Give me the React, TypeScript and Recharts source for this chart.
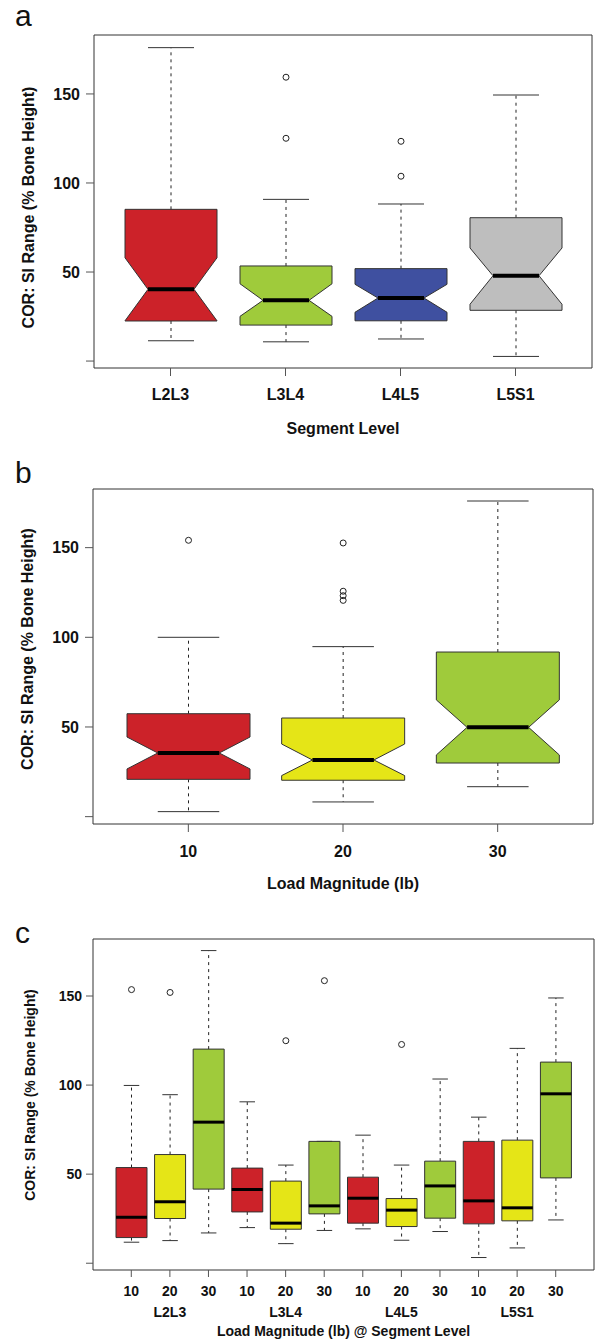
import React from 'react'
import { BarChart, Bar, Cell, XAxis, YAxis, CartesianGrid, Label } from 'recharts'

const segments = ['L2L3', 'L3L4', 'L4L5', 'L5S1']
const loads = ['10', '20', '30']
const yTicks = [0, 50, 100, 150]

// a: by segment level (notched)
const segWhiskerLo = [11.4, 10.8, 12.4, 2.6]
const segQ1 = [22.5, 20.2, 22.6, 28.5]
const segNotchLo = [22.6, 25.1, 27.4, 31.9]
const segMedian = [40.3, 34.1, 35.4, 47.9]
const segNotchHi = [58.0, 43.4, 43.1, 63.5]
const segQ3 = [85.2, 53.4, 51.9, 80.5]
const segWhiskerHi = [176.0, 90.8, 88.2, 149.4]
const segOutliers: number[][] = [[], [125.1, 159.4], [103.8, 123.4], []]

// b: by load magnitude (notched)
const loadWhiskerLo = [2.8, 8.2, 16.7]
const loadQ1 = [20.8, 20.3, 29.9]
const loadNotchLo = [26.6, 22.9, 34.4]
const loadMedian = [35.5, 31.6, 49.8]
const loadNotchHi = [44.4, 40.5, 65.1]
const loadQ3 = [57.4, 55.0, 91.8]
const loadWhiskerHi = [100.0, 94.8, 176.0]
const loadOutliers: number[][] = [[154.1], [120.6, 123.2, 125.7, 152.6], []]

// c: load @ segment level
const comboWhiskerLo = [11.8, 12.7, 17.0, 20.0, 11.0, 18.4, 19.3, 12.9, 17.8, 3.2, 8.6, 24.3]
const comboQ1 = [14.4, 25.1, 41.6, 28.8, 19.1, 27.7, 22.5, 20.6, 25.3, 22.1, 23.8, 47.9]
const comboMedian = [25.8, 34.5, 79.2, 41.4, 22.5, 32.2, 36.5, 29.8, 43.4, 35.0, 31.1, 95.1]
const comboQ3 = [53.7, 61.0, 120.2, 53.4, 46.1, 68.4, 48.3, 36.3, 57.3, 68.4, 69.1, 112.9]
const comboWhiskerHi = [99.8, 94.6, 175.5, 90.6, 55.1, 68.4, 71.9, 55.1, 103.4, 82.0, 120.6, 148.9]
const comboOutliers: number[][] = [[153.6], [152.0], [], [], [124.9], [158.6], [], [122.8], [], [], [], []]

const segColors = ['#CC2229', '#9FCB3B', '#3F50A0', '#BEBEBE']
const loadColors = ['#CC2229', '#E5E517', '#9FCB3B']

type Box = {
  name: string
  lo: number
  q1: number
  med: number
  q3: number
  hi: number
  nLo?: number
  nHi?: number
  out: number[]
}

const segData: Box[] = segments.map((name, i) => ({
  name,
  lo: segWhiskerLo[i],
  q1: segQ1[i],
  nLo: segNotchLo[i],
  med: segMedian[i],
  nHi: segNotchHi[i],
  q3: segQ3[i],
  hi: segWhiskerHi[i],
  out: segOutliers[i],
}))

const loadData: Box[] = loads.map((name, i) => ({
  name,
  lo: loadWhiskerLo[i],
  q1: loadQ1[i],
  nLo: loadNotchLo[i],
  med: loadMedian[i],
  nHi: loadNotchHi[i],
  q3: loadQ3[i],
  hi: loadWhiskerHi[i],
  out: loadOutliers[i],
}))

const comboData: Box[] = comboMedian.map((med, i) => ({
  name: `${segments[Math.floor(i / 3)]} ${loads[i % 3]}`,
  lo: comboWhiskerLo[i],
  q1: comboQ1[i],
  med,
  q3: comboQ3[i],
  hi: comboWhiskerHi[i],
  out: comboOutliers[i],
}))
const comboColors = comboData.map((_, i) => loadColors[i % 3])

const FONT = '"Liberation Sans", Arial, Helvetica, sans-serif'

// box, whiskers, median and outliers, placed with the bar's own y scale
const makeBoxShape = (medianWidth: number) => (props: any) => {
  const { x, y, width, height, payload, fill } = props
  const b: Box = payload
  const top = Math.min(y, y + height)
  const k = Math.abs(height) / (b.q3 - b.q1)
  const py = (v: number) => top + (b.q3 - v) * k
  const cx = x + width / 2
  const left = x
  const right = x + width
  const cap = width / 4
  const notched = b.nLo != null && b.nHi != null
  const waist = notched ? width / 4 : width / 2
  const pts = notched
    ? [
        [left, py(b.q3)], [right, py(b.q3)], [right, py(b.nHi!)], [cx + waist, py(b.med)],
        [right, py(b.nLo!)], [right, py(b.q1)], [left, py(b.q1)], [left, py(b.nLo!)],
        [cx - waist, py(b.med)], [left, py(b.nHi!)],
      ]
    : [[left, py(b.q3)], [right, py(b.q3)], [right, py(b.q1)], [left, py(b.q1)]]
  return (
    <g>
      <line x1={cx} x2={cx} y1={py(b.q3)} y2={py(b.hi)} stroke="#222" strokeDasharray="3 4" />
      <line x1={cx} x2={cx} y1={py(b.q1)} y2={py(b.lo)} stroke="#222" strokeDasharray="3 4" />
      <line x1={cx - cap} x2={cx + cap} y1={py(b.hi)} y2={py(b.hi)} stroke="#333" />
      <line x1={cx - cap} x2={cx + cap} y1={py(b.lo)} y2={py(b.lo)} stroke="#333" />
      <polygon points={pts.map((p) => p.join(',')).join(' ')} fill={fill} stroke="#333" />
      <line x1={cx - waist} x2={cx + waist} y1={py(b.med)} y2={py(b.med)} stroke="#000" strokeWidth={medianWidth} />
      {b.out.map((v, i) => (
        <circle key={i} cx={cx} cy={py(v)} r={3} fill="none" stroke="#222" />
      ))}
    </g>
  )
}

const yTick = (size: number) => (p: any) =>
  p.payload.value === 0 ? (
    <g />
  ) : (
    <text x={p.x} y={p.y} dy={size * 0.36} textAnchor="end" fontSize={size} fontWeight="bold" fill="#111" fontFamily={FONT}>
      {p.payload.value}
    </text>
  )

const plainTick = (size: number, dy: number) => (p: any) => (
  <text x={p.x} y={p.y + dy} textAnchor="middle" fontSize={size} fontWeight="bold" fill="#111" fontFamily={FONT}>
    {p.payload.value}
  </text>
)

const comboTick = (p: any) => {
  const [seg, load] = String(p.payload.value).split(' ')
  return (
    <g fontSize={14} fontWeight="bold" fill="#111" fontFamily={FONT}>
      <text x={p.x} y={p.y + 19} textAnchor="middle">{load}</text>
      {load === loads[1] && (
        <text x={p.x} y={p.y + 39.6} textAnchor="middle">{seg}</text>
      )}
    </g>
  )
}

type PanelProps = {
  letter: string
  top: number
  height: number
  marginTop: number
  marginRight: number
  axisWidth: number
  axisHeight: number
  data: Box[]
  colors: string[]
  domain: [number, number]
  barSize: number
  pad: number
  size: number
  tickLen: number
  tickGap: number
  yTitleX: number
  yTitleY: number
  xTitle: string
  xTitleDy: number
  xTick: (p: any) => any
  medianWidth: number
}

function Panel(props: PanelProps) {
  const {
    letter, top, height, marginTop, marginRight, axisWidth, axisHeight, data, colors, domain,
    barSize, pad, size, tickLen, tickGap, yTitleX, yTitleY, xTitle, xTitleDy, xTick, medianWidth,
  } = props
  const yTitle = () => (
    <g fontFamily={FONT}>
      <text x={15} y={letter === 'a' ? 26 : 43} fontSize={30} fill="#111">{letter}</text>
      <text
        transform={`translate(${yTitleX},${yTitleY}) rotate(-90)`}
        textAnchor="middle"
        dy={size * 0.36}
        fontSize={size}
        fontWeight="bold"
        fill="#111"
      >
        COR: SI Range (% Bone Height)
      </text>
    </g>
  )
  const xTitleEl = (p: any) => {
    const vb = p.viewBox || {}
    return (
      <text x={vb.x + vb.width / 2} y={vb.y + xTitleDy} textAnchor="middle" fontSize={size} fontWeight="bold" fill="#111" fontFamily={FONT}>
        {xTitle}
      </text>
    )
  }
  return (
    <div style={{ position: 'absolute', left: 0, top }}>
      <BarChart width={595} height={height} data={data} margin={{ top: marginTop, right: marginRight, left: 0, bottom: 0 }}>
        <CartesianGrid
          stroke="#333"
          horizontalCoordinatesGenerator={({ offset }: any) => [offset.top, offset.top + offset.height]}
          verticalCoordinatesGenerator={({ offset }: any) => [offset.left, offset.left + offset.width]}
        />
        <XAxis
          dataKey="name"
          type="category"
          interval={0}
          padding={{ left: pad, right: pad }}
          height={axisHeight}
          axisLine={false}
          tickSize={tickLen}
          tickMargin={0}
          tickLine={{ stroke: '#555' }}
          tick={xTick}
        >
          <Label content={xTitleEl} />
        </XAxis>
        <YAxis
          type="number"
          domain={domain}
          allowDataOverflow
          ticks={yTicks}
          width={axisWidth}
          axisLine={false}
          tickSize={tickLen}
          tickMargin={tickGap}
          tickLine={{ stroke: '#555' }}
          tick={yTick(size)}
        >
          <Label content={yTitle} />
        </YAxis>
        <Bar
          dataKey={(d: Box) => [d.q1, d.q3]}
          barSize={barSize}
          shape={makeBoxShape(medianWidth)}
          isAnimationActive={false}
        >
          {data.map((d, i) => (
            <Cell key={d.name} fill={colors[i]} />
          ))}
        </Bar>
      </BarChart>
    </div>
  )
}

export default function App() {
  return (
    <div style={{ position: 'absolute', left: 0, top: 0, width: 595, height: 1340, background: '#fff', fontFamily: FONT }}>
      <Panel
        letter="a" top={0} height={440} marginTop={35} marginRight={3} axisWidth={94} axisHeight={72}
        data={segData} colors={segColors} domain={[-3.9, 183.1]} barSize={92} pad={19}
        size={16} tickLen={8} tickGap={6} yTitleX={28.5} yTitleY={207.5}
        xTitle="Segment Level" xTitleDy={65.5} xTick={plainTick(16, 24)} medianWidth={4}
      />
      <Panel
        letter="b" top={440} height={460} marginTop={49} marginRight={2} axisWidth={93} axisHeight={76}
        data={loadData} colors={loadColors} domain={[-4.1, 182.7]} barSize={123} pad={18}
        size={16} tickLen={8} tickGap={6} yTitleX={27.5} yTitleY={209}
        xTitle="Load Magnitude (lb)" xTitleDy={64.5} xTick={plainTick(16, 24.5)} medianWidth={4}
      />
      <Panel
        letter="c" top={900} height={440} marginTop={39} marginRight={1} axisWidth={93} axisHeight={70}
        data={comboData} colors={comboColors} domain={[-3.8, 182]} barSize={31} pad={19}
        size={14} tickLen={7} tickGap={4} yTitleX={30.3} yTitleY={195}
        xTitle="Load Magnitude (lb) @ Segment Level" xTitleDy={66} xTick={comboTick} medianWidth={3}
      />
    </div>
  )
}
